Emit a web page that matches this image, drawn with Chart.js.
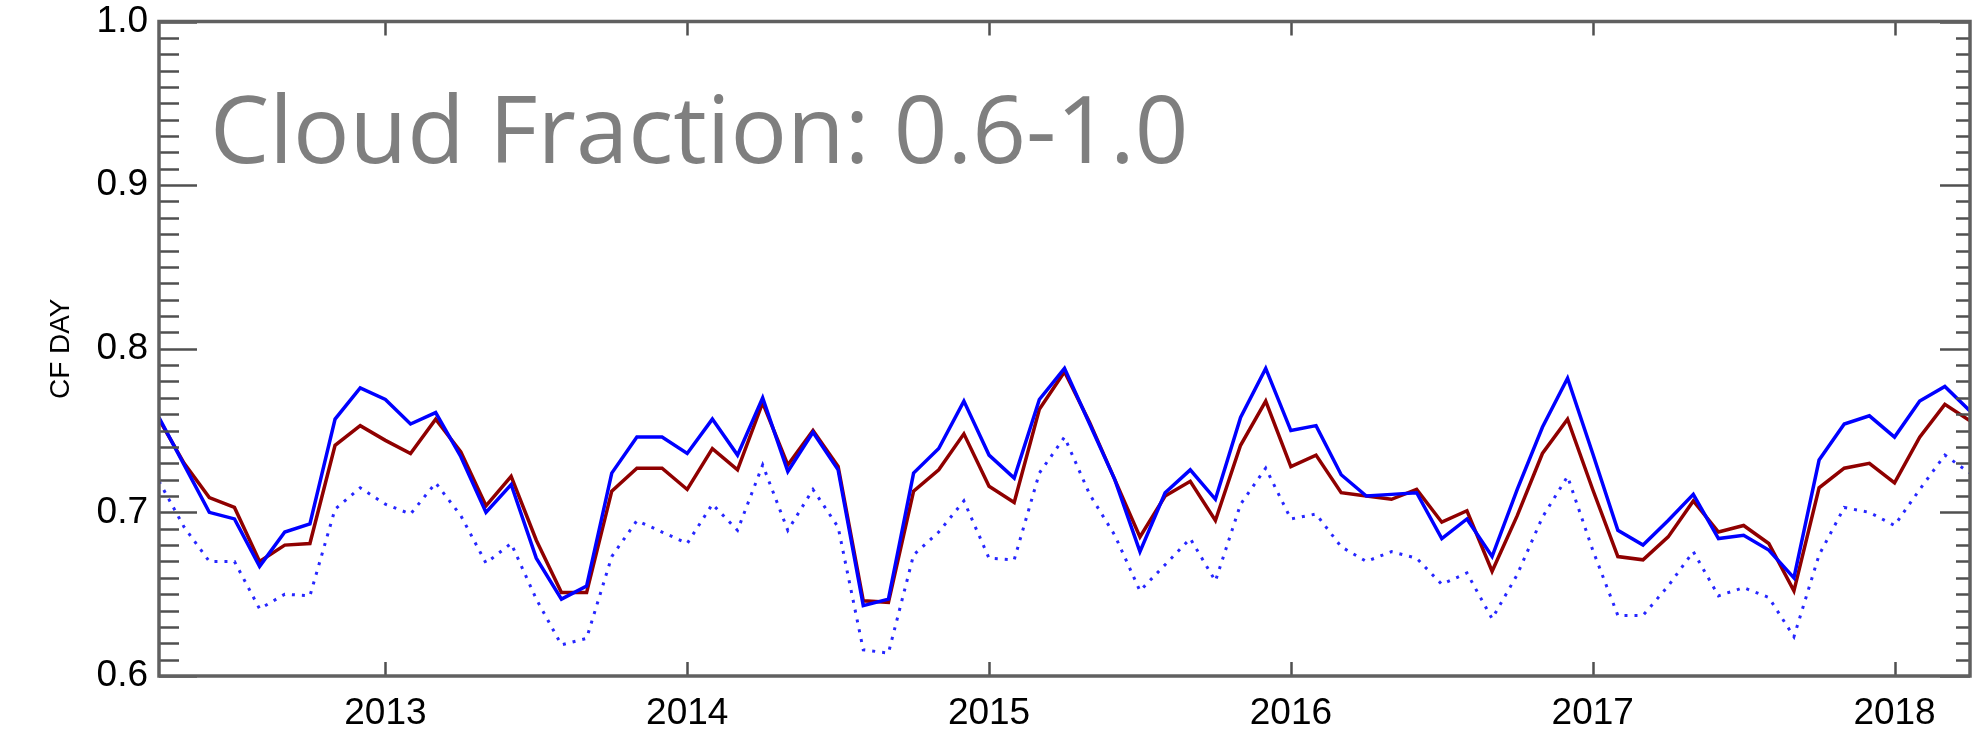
<!DOCTYPE html>
<html>
<head>
<title>CF DAY</title>
<script src="https://cdn.jsdelivr.net/npm/chart.js@4.4.1/dist/chart.umd.min.js"></script>
<style>
body { margin:0; background:#fff; }
</style>
</head>
<body>
<canvas id="myChart" width="1972" height="732"></canvas>
<script>
// monthly values, April 2012 .. April 2018
var firstMonth = 2012 + 3/12;
var yearTicks = [2013, 2014, 2015, 2016, 2017, 2018];
var yTicks = [0.6, 0.7, 0.8, 0.9, 1.0];

var cfBlue = [0.758,0.729,0.700,0.696,0.667,0.688,0.693,0.757,0.776,0.769,0.754,0.761,
  0.734,0.700,0.717,0.672,0.647,0.655,0.724,0.746,0.746,0.736,0.757,0.735,
  0.770,0.725,0.749,0.726,0.643,0.647,0.724,0.739,0.768,0.735,0.721,0.769,
  0.788,0.754,0.720,0.676,0.712,0.726,0.708,0.758,0.788,0.750,0.753,0.723,
  0.710,0.711,0.712,0.684,0.696,0.673,0.714,0.752,0.782,0.736,0.689,0.680,
  0.695,0.711,0.684,0.686,0.677,0.660,0.732,0.754,0.759,0.746,0.768,0.777,0.762];
var cfRed = [0.757,0.730,0.709,0.703,0.670,0.680,0.681,0.741,0.753,0.744,0.736,0.757,
  0.737,0.704,0.722,0.683,0.651,0.651,0.713,0.727,0.727,0.714,0.739,0.726,
  0.767,0.729,0.750,0.728,0.646,0.645,0.713,0.726,0.748,0.716,0.706,0.763,
  0.786,0.755,0.720,0.685,0.710,0.719,0.695,0.741,0.768,0.728,0.735,0.712,
  0.710,0.708,0.714,0.694,0.701,0.664,0.698,0.736,0.757,0.714,0.673,0.671,
  0.685,0.707,0.688,0.692,0.681,0.652,0.715,0.727,0.730,0.718,0.746,0.766,0.756];
var cfDot = [0.719,0.691,0.670,0.670,0.641,0.650,0.649,0.702,0.715,0.705,0.699,0.718,
  0.698,0.669,0.681,0.647,0.619,0.623,0.673,0.695,0.688,0.681,0.705,0.689,
  0.729,0.689,0.714,0.691,0.616,0.614,0.674,0.688,0.707,0.672,0.671,0.724,
  0.746,0.711,0.686,0.652,0.668,0.684,0.658,0.705,0.727,0.696,0.699,0.679,
  0.670,0.676,0.672,0.656,0.663,0.635,0.662,0.697,0.722,0.677,0.637,0.637,
  0.655,0.676,0.649,0.654,0.648,0.624,0.674,0.703,0.700,0.692,0.714,0.735,0.724];

function pts(arr) {
  return arr.map(function(v, i) { return { x: firstMonth + i/12, y: v }; });
}

var fam = '"Liberation Sans", Arial, sans-serif';

// box, inward tick marks and the big grey caption
var frame = {
  id: 'frame',
  afterDraw: function(chart) {
    var ctx = chart.ctx, a = chart.chartArea, xs = chart.scales.x, ys = chart.scales.y;
    ctx.save();
    ctx.strokeStyle = '#505050';
    ctx.lineWidth = 2.5;
    ctx.beginPath();
    for (var k = 0; k <= 40; k++) {
      var py = Math.round(ys.getPixelForValue(0.6 + k * 0.01)) + 0.5;
      var major = k % 10 === 0;
      ctx.moveTo(a.left, py); ctx.lineTo(a.left + (major ? 38 : 20), py);
      ctx.moveTo(a.right, py); ctx.lineTo(a.right - (major ? 30 : 14), py);
    }
    yearTicks.forEach(function(yr) {
      var px = Math.round(xs.getPixelForValue(yr)) + 0.5;
      ctx.moveTo(px, a.bottom); ctx.lineTo(px, a.bottom - 14);
      ctx.moveTo(px, a.top); ctx.lineTo(px, a.top + 14);
    });
    ctx.stroke();
    ctx.lineWidth = 3.5;
    ctx.strokeStyle = '#606060';
    ctx.strokeRect(a.left, a.top, a.right - a.left, a.bottom - a.top);

    ctx.fillStyle = '#7f7f7f';
    ctx.font = '94px "Open Sans", sans-serif';
    ctx.textBaseline = 'alphabetic';
    ctx.fillText('Cloud Fraction: 0.6-1.0', 210, 163);
    ctx.restore();
  }
};

var ctx = document.getElementById('myChart').getContext('2d');
var chart = new Chart(ctx, {
  type: 'line',
  data: {
    datasets: [
      { data: pts(cfBlue), borderColor: '#0000ff', borderWidth: 3.5 },
      { data: pts(cfRed), borderColor: '#8f0000', borderWidth: 3.5 },
      { data: pts(cfDot), borderColor: 'rgba(0,0,255,0.85)', borderWidth: 3, borderDash: [3, 7] }
    ]
  },
  options: {
    responsive: false,
    animation: false,
    devicePixelRatio: 1,
    layout: { padding: { top: 21, right: 2, left: 0, bottom: 0 } },
    plugins: { legend: { display: false }, tooltip: { enabled: false } },
    elements: { point: { radius: 0 }, line: { tension: 0, fill: false } },
    scales: {
      x: {
        type: 'linear', min: firstMonth, max: firstMonth + 6,
        grid: { display: false }, border: { display: false },
        afterBuildTicks: function(s) { s.ticks = yearTicks.map(function(v) { return { value: v }; }); },
        afterFit: function(s) { s.height = 56; },
        ticks: { callback: function(v) { return String(v); }, font: { family: fam, size: 37 },
                 color: '#000', padding: 8, maxRotation: 0 }
      },
      y: {
        min: 0.6, max: 1.0,
        grid: { display: false }, border: { display: false },
        afterBuildTicks: function(s) { s.ticks = yTicks.map(function(v) { return { value: v }; }); },
        afterFit: function(s) { s.width = 159; },
        title: { display: true, text: 'CF DAY', color: '#000',
                 font: { family: fam, size: 28 }, padding: { top: 44, bottom: 0 } },
        ticks: { callback: function(v) { return v.toFixed(1); }, font: { family: fam, size: 37, lineHeight: 1 },
                 color: '#000', padding: 3 }
      }
    }
  },
  plugins: [frame]
});
</script>
</body>
</html>
